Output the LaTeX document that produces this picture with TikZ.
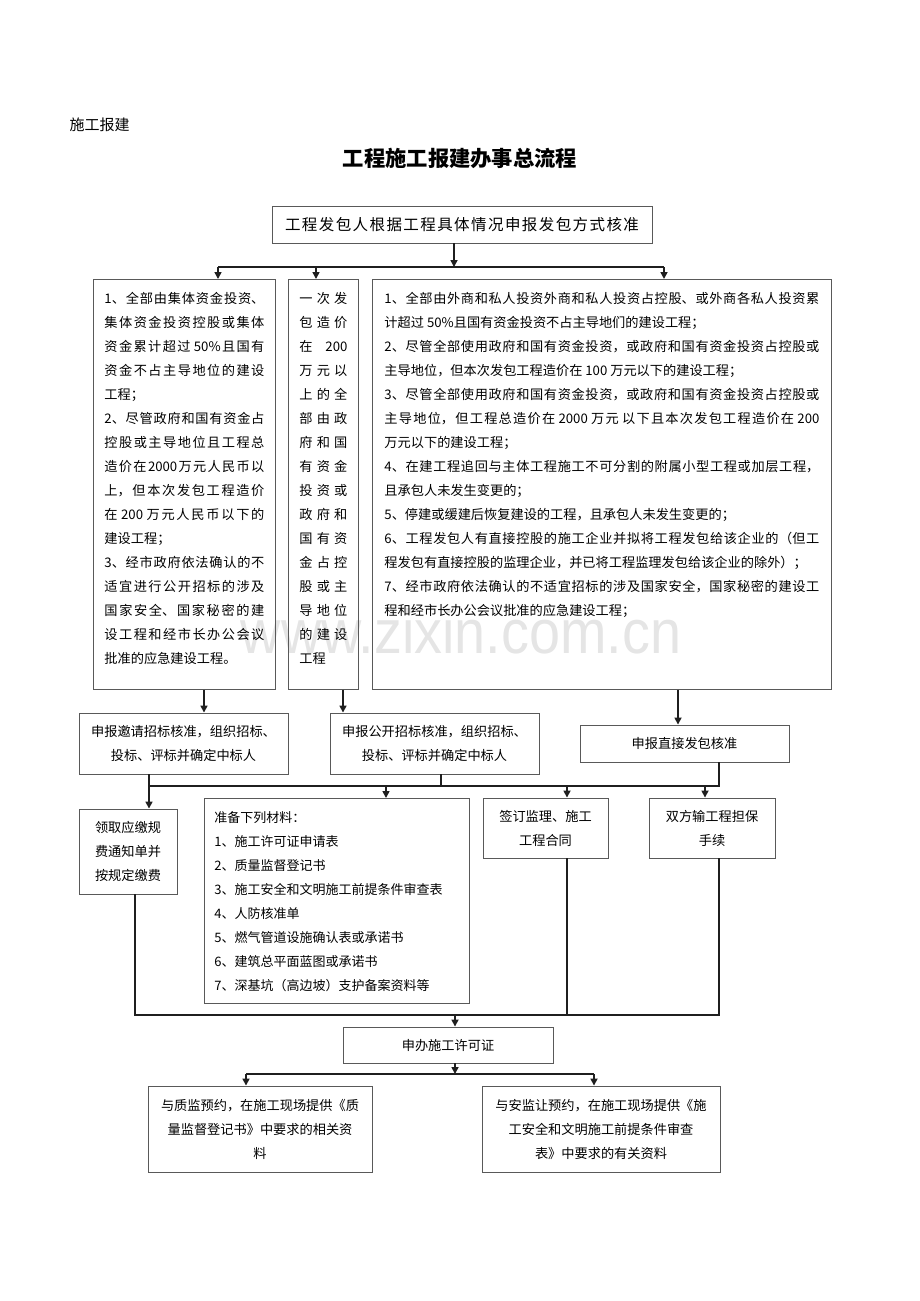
\documentclass[tikz,border=0pt]{standalone}
\usepackage{fontspec}
\setmainfont{Noto Sans CJK SC}
\newfontfamily\markfont{Liberation Sans}
\usetikzlibrary{arrows.meta}
\XeTeXlinebreaklocale "zh"
\XeTeXlinebreakskip=0pt plus 0.5em
\tikzset{>={Triangle[length=7pt,width=7pt]}}
\tikzset{
	box/.style={draw=black!65, line width=0.9pt, inner sep=0pt},
	note/.style={box, align=center, font=\fontsize{13.2}{24}\selectfont},
	para/.style={box, anchor=north west, align=justify, inner xsep=#1, text height=24pt, text depth=386pt, font=\fontsize{13.2}{24}\selectfont},
	link/.style={line width=1.6pt, black!88},
	linkarr/.style={link, ->},
}

\begin{document}
\begin{tikzpicture}[x=1pt, y=-1pt]
	\useasboundingbox (0,0) rectangle (920,1301);
	
	% Watermark
	\node[font=\markfont\fontsize{62}{62}\selectfont, text=black!10, xscale=0.9, transform shape] (mark) at (461,631) {www.zixin.com.cn};
	
	% Headings
	\node[anchor=west, font=\fontsize{15}{18}\selectfont] (hdr) at (66,125) {施工报建};
	\node[font=\fontsize{21.3}{24}\selectfont\bfseries] (title) at (460,158) {工程施工报建办事总流程};
	
	% Application
	\node[note, minimum width=380pt, minimum height=37pt, text width=354pt, align=justify, font=\fontsize{15.5}{20}\selectfont] (apply) at (462,224.5) {\parfillskip=0pt\relax 工程发包人根据工程具体情况申报发包方式核准\par};
	
	% Three cases
	\node[para=11, text width=160pt] (boxA) at (93,279) {1、全部由集体资金投资、\linebreak
		集体资金投资控股或集体\linebreak
		资金累计超过 50\%且国有\linebreak
		资金不占主导地位的建设\linebreak
		工程；\\
		2、尽管政府和国有资金占\linebreak
		控股或主导地位且工程总\linebreak
		造价在2000万元人民币以\linebreak
		上，但本次发包工程造价\linebreak
		在 200 万元人民币以下的\linebreak
		建设工程；\\
		3、经市政府依法确认的不\linebreak
		适宜进行公开招标的涉及\linebreak
		国家安全、国家秘密的建\linebreak
		设工程和经市长办公会议\linebreak
		批准的应急建设工程。};
	\node[para=11, text width=48pt] (boxB) at (288,279) {一次发\linebreak
		包造价\linebreak
		在 200\linebreak
		万元以\linebreak
		上的全\linebreak
		部由政\linebreak
		府和国\linebreak
		有资金\linebreak
		投资或\linebreak
		政府和\linebreak
		国有资\linebreak
		金占控\linebreak
		股或主\linebreak
		导地位\linebreak
		的建设\linebreak
		工程};
	\node[para=12, text width=435pt] (boxC) at (372,279) {1、全部由外商和私人投资外商和私人投资占控股、或外商各私人投资累\linebreak
		计超过 50\%且国有资金投资不占主导地们的建设工程；\\
		2、尽管全部使用政府和国有资金投资，或政府和国有资金投资占控股或\linebreak
		主导地位，但本次发包工程造价在 100 万元以下的建设工程；\\
		3、尽管全部使用政府和国有资金投资，或政府和国有资金投资占控股或\linebreak
		主导地位，但工程总造价在 2000 万元 以下且本次发包工程造价在 200\linebreak
		万元以下的建设工程；\\
		4、在建工程追回与主体工程施工不可分割的附属小型工程或加层工程，\linebreak
		且承包人未发生变更的；\\
		5、停建或缓建后恢复建设的工程，且承包人未发生变更的；\\
		6、工程发包人有直接控股的施工企业并拟将工程发包给该企业的（但工\linebreak
		程发包有直接控股的监理企业，并已将工程监理发包给该企业的除外）；\\
		7、经市政府依法确认的不适宜招标的涉及国家安全，国家秘密的建设工\linebreak
		程和经市长办公会议批准的应急建设工程；};
	
	% Approvals
	\node[note, minimum width=209pt, minimum height=61pt] (boxD) at (183.5,743.5) {申报邀请招标核准，组织招标、\\投标、评标并确定中标人};
	\node[note, minimum width=209pt, minimum height=61pt] (boxE) at (434.5,743.5) {申报公开招标核准，组织招标、\\投标、评标并确定中标人};
	\node[note, minimum width=209pt, minimum height=37pt] (boxF) at (684.5,743.5) {申报直接发包核准};
	
	% Preparations
	\node[note, minimum width=98pt, minimum height=85pt] (boxG) at (128,851.5) {领取应缴规\\费通知单并\\按规定缴费};
	\node[box, anchor=north west, align=left, text width=245pt, inner xsep=10pt, text height=24pt, text depth=181pt, font=\fontsize{13}{24}\selectfont] (boxH) at (204,798) {准备下列材料：\\
		1、施工许可证申请表\\
		2、质量监督登记书\\
		3、施工安全和文明施工前提条件审查表\\
		4、人防核准单\\
		5、燃气管道设施确认表或承诺书\\
		6、建筑总平面蓝图或承诺书\\
		7、深基坑（高边坡）支护备案资料等};
	\node[note, minimum width=125pt, minimum height=60pt] (boxI) at (545.5,828) {签订监理、施工\\工程合同};
	\node[note, minimum width=126pt, minimum height=60pt] (boxJ) at (712,828) {双方输工程担保\\手续};
	
	% Permit
	\node[note, minimum width=210pt, minimum height=36pt] (permit) at (448,1045) {申办施工许可证};
	\node[note, minimum width=224pt, minimum height=86pt] (qual) at (260,1129) {与质监预约，在施工现场提供《质\\量监督登记书》中要求的相关资\\料};
	\node[note, minimum width=238pt, minimum height=86pt] (safe) at (601,1129) {与安监让预约，在施工现场提供《施\\工安全和文明施工前提条件审查\\表》中要求的有关资料};
	
	% Top split
	\coordinate (s0) at (454,267);
	\coordinate (sA) at (218,267);
	\coordinate (sB) at (316,267);
	\coordinate (sC) at (664,267);
	\draw[linkarr] (s0 |- apply.south) -- (s0);
	\draw[link] (sA) -- (sC);
	\foreach \j/\b in {sA/boxA, sB/boxB, sC/boxC}
		\draw[linkarr] (\j) -- (\j |- \b.north);
	
	% Cases to approvals
	\coordinate (dA) at (204,700);
	\coordinate (dB) at (343,700);
	\coordinate (dC) at (678,700);
	\draw[linkarr] (dA |- boxA.south) -- (dA |- boxD.north);
	\draw[linkarr] (dB |- boxB.south) -- (dB |- boxE.north);
	\draw[linkarr] (dC |- boxC.south) -- (dC |- boxF.north);
	
	% Approvals to preparations
	\coordinate (m1) at (149,786);
	\coordinate (m2) at (719,786);
	\coordinate (mE) at (441,786);
	\coordinate (mH) at (386,786);
	\coordinate (mI) at (567,786);
	\coordinate (mJ) at (705,786);
	\draw[link] (m1 |- boxD.south) -- (m1) -- (m2) -- (m2 |- boxF.south);
	\draw[link] (mE |- boxE.south) -- (mE);
	\foreach \j/\b in {m1/boxG, mH/boxH, mI/boxI, mJ/boxJ}
		\draw[linkarr] (\j) -- (\j |- \b.north);
	
	% Preparations to permit
	\coordinate (b1) at (135,1015);
	\coordinate (b2) at (719,1015);
	\coordinate (bI) at (567,1015);
	\coordinate (bP) at (455,1015);
	\draw[link] (b1 |- boxG.south) -- (b1) -- (b2) -- (b2 |- boxJ.south);
	\draw[link] (bI |- boxI.south) -- (bI);
	\draw[linkarr] (bP) -- (bP |- permit.north);
	
	% Permit to site checks
	\coordinate (p0) at (455,1074);
	\coordinate (pL) at (246,1074);
	\coordinate (pR) at (594,1074);
	\draw[linkarr] (p0 |- permit.south) -- (p0);
	\draw[link] (pL) -- (pR);
	\draw[linkarr] (pL) -- (pL |- qual.north);
	\draw[linkarr] (pR) -- (pR |- safe.north);
\end{tikzpicture}
\end{document}
